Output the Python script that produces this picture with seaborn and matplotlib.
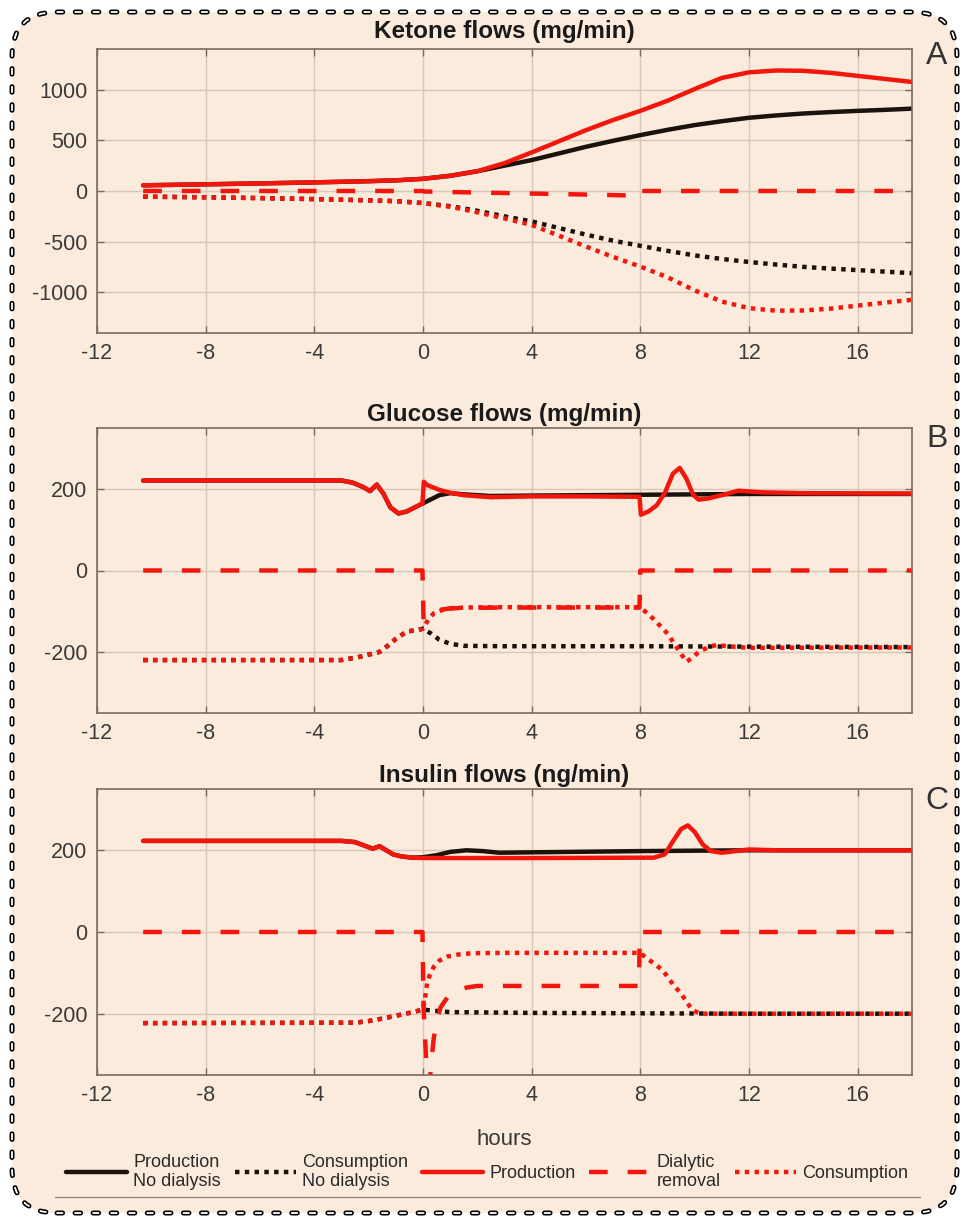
import numpy as np
import pandas as pd
import matplotlib
matplotlib.use("Agg")
import matplotlib.pyplot as plt
import seaborn as sns
from matplotlib.patches import FancyBboxPatch
from matplotlib.lines import Line2D
from matplotlib.transforms import IdentityTransform

# ---------------- data ----------------
panel_titles = ["Ketone flows (mg/min)", "Glucose flows (mg/min)", "Insulin flows (ng/min)"]
panel_letters = ["A", "B", "C"]
x_ticks = [-12, -8, -4, 0, 4, 8, 12, 16]
yticks_A = [-1000, -500, 0, 500, 1000]
yticks_BC = [-200, 0, 200]
series_labels = ["Production\nNo dialysis", "Consumption\nNo dialysis", "Production",
                 "Dialytic\nremoval", "Consumption"]

# Panel A - ketone (mg/min)
ket_x = [-10.3, -8, -6, -4, -2, -1, 0, 1, 2, 3, 4, 5, 6, 7, 8, 9, 10, 11, 12, 13, 14, 15, 16, 17, 18]
ket_prod_nd = [56, 66, 75, 85, 97, 105, 120, 150, 195, 250, 305, 370, 436, 495, 551, 603, 650, 688, 722, 745, 764, 778, 790, 800, 812]
ket_cons_nd = [-56, -62, -70, -80, -92, -100, -118, -150, -195, -250, -300, -365, -430, -490, -540, -590, -635, -670, -700, -725, -748, -765, -780, -795, -810]
ket_prod = [56, 66, 75, 85, 97, 105, 120, 150, 195, 275, 380, 490, 600, 700, 790, 890, 1005, 1115, 1170, 1188, 1185, 1165, 1135, 1105, 1075]
ket_cons = [-56, -62, -70, -80, -92, -100, -120, -155, -210, -270, -335, -440, -548, -650, -745, -850, -980, -1090, -1155, -1180, -1178, -1160, -1130, -1100, -1073]
ket_rem_x = [-10.3, 0, 0.05, 2, 4, 6, 7.85, 7.9, 18]
ket_rem = [0, 0, -5, -15, -25, -35, -45, 0, 0]

# Panel B - glucose (mg/min)
glu_prod_x = [-10.3, -3.0, -2.6, -2.2, -1.95, -1.7, -1.45, -1.2, -0.9, -0.6, -0.3, -0.02, 0.03, 0.15, 0.3, 0.6, 1.0, 1.5, 2.5, 4, 6, 7.97, 8.02, 8.3, 8.6, 8.9, 9.2, 9.45, 9.7, 9.95, 10.15, 10.5, 11.0, 11.6, 12.5, 14, 18]
glu_prod = [221, 221, 216, 205, 195, 211, 188, 155, 140, 145, 155, 165, 218, 210, 206, 198, 191, 185, 180, 182, 182, 181, 137, 145, 160, 190, 238, 252, 225, 185, 174, 177, 185, 196, 192, 190, 189]
glu_prod_nd_x = [-10.3, -3.0, -2.6, -2.2, -1.95, -1.7, -1.45, -1.2, -0.9, -0.6, -0.3, 0.0, 0.3, 0.6, 1.0, 1.5, 2.5, 4, 8, 12, 18]
glu_prod_nd = [221, 221, 216, 205, 195, 211, 188, 155, 140, 145, 155, 165, 175, 185, 190, 187, 183, 184, 186, 188, 188]
glu_cons_x = [-10.3, -3.0, -2.4, -1.9, -1.6, -1.3, -1.0, -0.6, -0.2, 0.0, 0.2, 0.4, 0.7, 1.0, 1.5, 3, 8.0, 8.5, 9.0, 9.4, 9.7, 9.9, 10.15, 10.5, 10.8, 11.2, 12, 18]
glu_cons = [-220, -220, -213, -205, -200, -185, -168, -150, -146, -143, -120, -105, -97, -93, -91, -90, -90, -120, -155, -195, -224, -215, -200, -188, -183, -186, -190, -189]
glu_cons_nd_x = [-10.3, -3.0, -2.4, -1.9, -1.6, -1.3, -1.0, -0.6, -0.2, 0.0, 0.3, 0.6, 1.0, 1.5, 3, 8, 12, 18]
glu_cons_nd = [-220, -220, -213, -205, -200, -185, -168, -150, -146, -143, -155, -170, -180, -185, -186, -186, -187, -188]
glu_rem_x = [-10.3, -0.02, 0.02, 0.1, 0.3, 0.6, 1.0, 1.5, 3, 7.97, 8.0, 18]
glu_rem = [0, 0, -120, -118, -105, -97, -93, -92, -91, -91, 0, 0]

# Panel C - insulin (ng/min)
ins_prod_x = [-10.3, -3.0, -2.5, -2.1, -1.85, -1.6, -1.35, -1.1, -0.8, -0.4, 0, 4, 8.5, 8.9, 9.2, 9.5, 9.75, 10.0, 10.3, 10.6, 11.0, 12, 13, 18]
ins_prod = [223, 223, 220, 210, 204, 210, 200, 190, 185, 182, 181, 181, 182, 190, 222, 252, 261, 245, 214, 198, 194, 202, 200, 200]
ins_prod_nd_x = [-10.3, -3.0, -2.5, -2.1, -1.85, -1.6, -1.35, -1.1, -0.8, -0.4, 0, 0.5, 1.0, 1.6, 2.2, 2.8, 4, 8, 12, 18]
ins_prod_nd = [223, 223, 220, 210, 204, 210, 200, 190, 185, 182, 183, 188, 196, 200, 198, 194, 195, 198, 200, 200]
ins_rem_x = [-10.3, -0.02, 0.02, 0.15, 0.2, 0.25, 0.3, 0.4, 0.5, 0.65, 0.9, 1.25, 1.6, 2.0, 7.95, 7.98, 18]
ins_rem = [0, 0, -184, -360, -420, -370, -320, -258, -220, -184, -160, -143, -136, -132, -132, 0, 0]
ins_cons_x = [-10.3, -2.5, -2.0, -1.5, -1.0, -0.5, 0, 0.08, 0.15, 0.25, 0.4, 0.6, 0.9, 1.3, 1.8, 3, 7.98, 8.4, 8.83, 9.2, 9.5, 9.9, 10.2, 12, 18]
ins_cons = [-223, -222, -218, -212, -205, -198, -190, -160, -126, -105, -85, -70, -60, -55, -52, -51, -51, -72, -94, -128, -151, -190, -200, -200, -200]
ins_cons_nd_x = [-10.3, -2.5, -2.0, -1.5, -1.0, -0.5, 0, 0.3, 1.0, 4, 8, 12, 18]
ins_cons_nd = [-223, -222, -218, -212, -205, -198, -190, -192, -196, -198, -199, -200, -200]

# ---------------- style ----------------
BG = "#fbebdc"
BLACK = "#1b120c"
RED = "#f2160c"
SPINE = "#7a6a5c"
GRID = "#d6c7b8"
TXT = "#3a3a3a"
LW = 3.2
SOLID = "-"
DOTTED = (0, (1, 1.2))
DASHED = (0, (4.2, 4.5))

sns.set_theme(style="ticks")
plt.rcParams["font.family"] = ["Liberation Sans", "DejaVu Sans"]
plt.rcParams["axes.unicode_minus"] = False
NARROW = ["Liberation Sans Narrow", "Liberation Sans", "DejaVu Sans"]

W, H = 962, 1221
fig = plt.figure(figsize=(W / 100, H / 100), dpi=100, facecolor="white")

# rounded dashed frame with ring-like dashes
frame = FancyBboxPatch((12, 8), 945, 1201, boxstyle="round,pad=0,rounding_size=45",
                       transform=IdentityTransform(), facecolor=BG, edgecolor="black",
                       linewidth=3.6, linestyle=(0, (4 / 3.6, 9 / 3.6)), zorder=-2)
frame.set_capstyle("round")
fig.add_artist(frame)
frame2 = FancyBboxPatch((12, 8), 945, 1201, boxstyle="round,pad=0,rounding_size=45",
                        transform=IdentityTransform(), facecolor="none", edgecolor="white",
                        linewidth=1.3, linestyle=(0, (4 / 1.3, 9 / 1.3)), zorder=-1)
frame2.set_capstyle("round")
fig.add_artist(frame2)

# axes placement (pixels: left, top, right, bottom)
boxes = [(97, 49, 912, 333), (97, 428, 912, 713), (97, 789, 912, 1075)]
ylims = [(-1400, 1400), (-350, 350), (-350, 350)]
yticks = [yticks_A, yticks_BC, yticks_BC]
letter_tops = [41, 424, 786]
title_pads = [8, 5, 5]

panels = [
    [(ket_x, ket_prod_nd, BLACK, SOLID, series_labels[0]),
     (ket_x, ket_cons_nd, BLACK, DOTTED, series_labels[1]),
     (ket_x, ket_cons, RED, DOTTED, series_labels[4]),
     (ket_rem_x, ket_rem, RED, DASHED, series_labels[3]),
     (ket_x, ket_prod, RED, SOLID, series_labels[2])],
    [(glu_prod_nd_x, glu_prod_nd, BLACK, SOLID, series_labels[0]),
     (glu_cons_nd_x, glu_cons_nd, BLACK, DOTTED, series_labels[1]),
     (glu_cons_x, glu_cons, RED, DOTTED, series_labels[4]),
     (glu_rem_x, glu_rem, RED, DASHED, series_labels[3]),
     (glu_prod_x, glu_prod, RED, SOLID, series_labels[2])],
    [(ins_prod_nd_x, ins_prod_nd, BLACK, SOLID, series_labels[0]),
     (ins_cons_nd_x, ins_cons_nd, BLACK, DOTTED, series_labels[1]),
     (ins_cons_x, ins_cons, RED, DOTTED, series_labels[4]),
     (ins_rem_x, ins_rem, RED, DASHED, series_labels[3]),
     (ins_prod_x, ins_prod, RED, SOLID, series_labels[2])],
]

axes = []
for i, (l, t, r, b) in enumerate(boxes):
    ax = fig.add_axes([l / W, 1 - b / H, (r - l) / W, (b - t) / H])
    ax.set_facecolor(BG)
    for (x, y, c, ls, lab) in panels[i]:
        sns.lineplot(x=x, y=y, ax=ax, color=c, linestyle=ls, linewidth=LW,
                     estimator=None, sort=False, label=lab)
    if ax.get_legend() is not None:
        ax.get_legend().remove()
    ax.set_xlim(-12, 18)
    ax.set_ylim(*ylims[i])
    ax.set_xticks(x_ticks)
    ax.set_yticks(yticks[i])
    ax.set_axisbelow(True)
    ax.grid(True, color=GRID, linewidth=1.0)
    ax.tick_params(direction="in", top=True, right=True, length=5, width=1,
                   color=SPINE, labelcolor=TXT, labelsize=15.5, pad=7)
    for s in ax.spines.values():
        s.set_color(SPINE)
        s.set_linewidth(1.2)
        s.set_visible(True)
    ax.set_xlabel("")
    ax.set_ylabel("")
    ax.set_title(panel_titles[i], fontsize=17.5, fontweight="bold", family=NARROW,
                 color="#1a1a1a", pad=title_pads[i])
    fig.text(937 / W, 1 - letter_tops[i] / H, panel_letters[i], ha="center", va="top",
             fontsize=23, color="#333333")
    axes.append(ax)

axC = axes[2]
axC.set_xlabel("hours", fontsize=16, color=TXT)
axC.xaxis.set_label_coords(0.5, -0.19)

# legend in requested order
handles, labels = axC.get_legend_handles_labels()
order = [series_labels[k] for k in [0, 1, 2, 3, 4]]
hmap = dict(zip(labels, handles))
leg = fig.legend([hmap[o] for o in order], order, loc="center", ncol=5,
                 bbox_to_anchor=(487 / W, 1 - 1172 / H), frameon=False,
                 prop={"family": NARROW, "size": 13}, handlelength=3.4,
                 handletextpad=0.35, columnspacing=0.75, labelcolor="#2a2a2a")
fig.add_artist(Line2D([55 / W, 920 / W], [1 - 1197 / H, 1 - 1197 / H],
                      transform=fig.transFigure, color="#8a7d70", linewidth=0.9))

fig.savefig("out.png", dpi=100, facecolor="white")
